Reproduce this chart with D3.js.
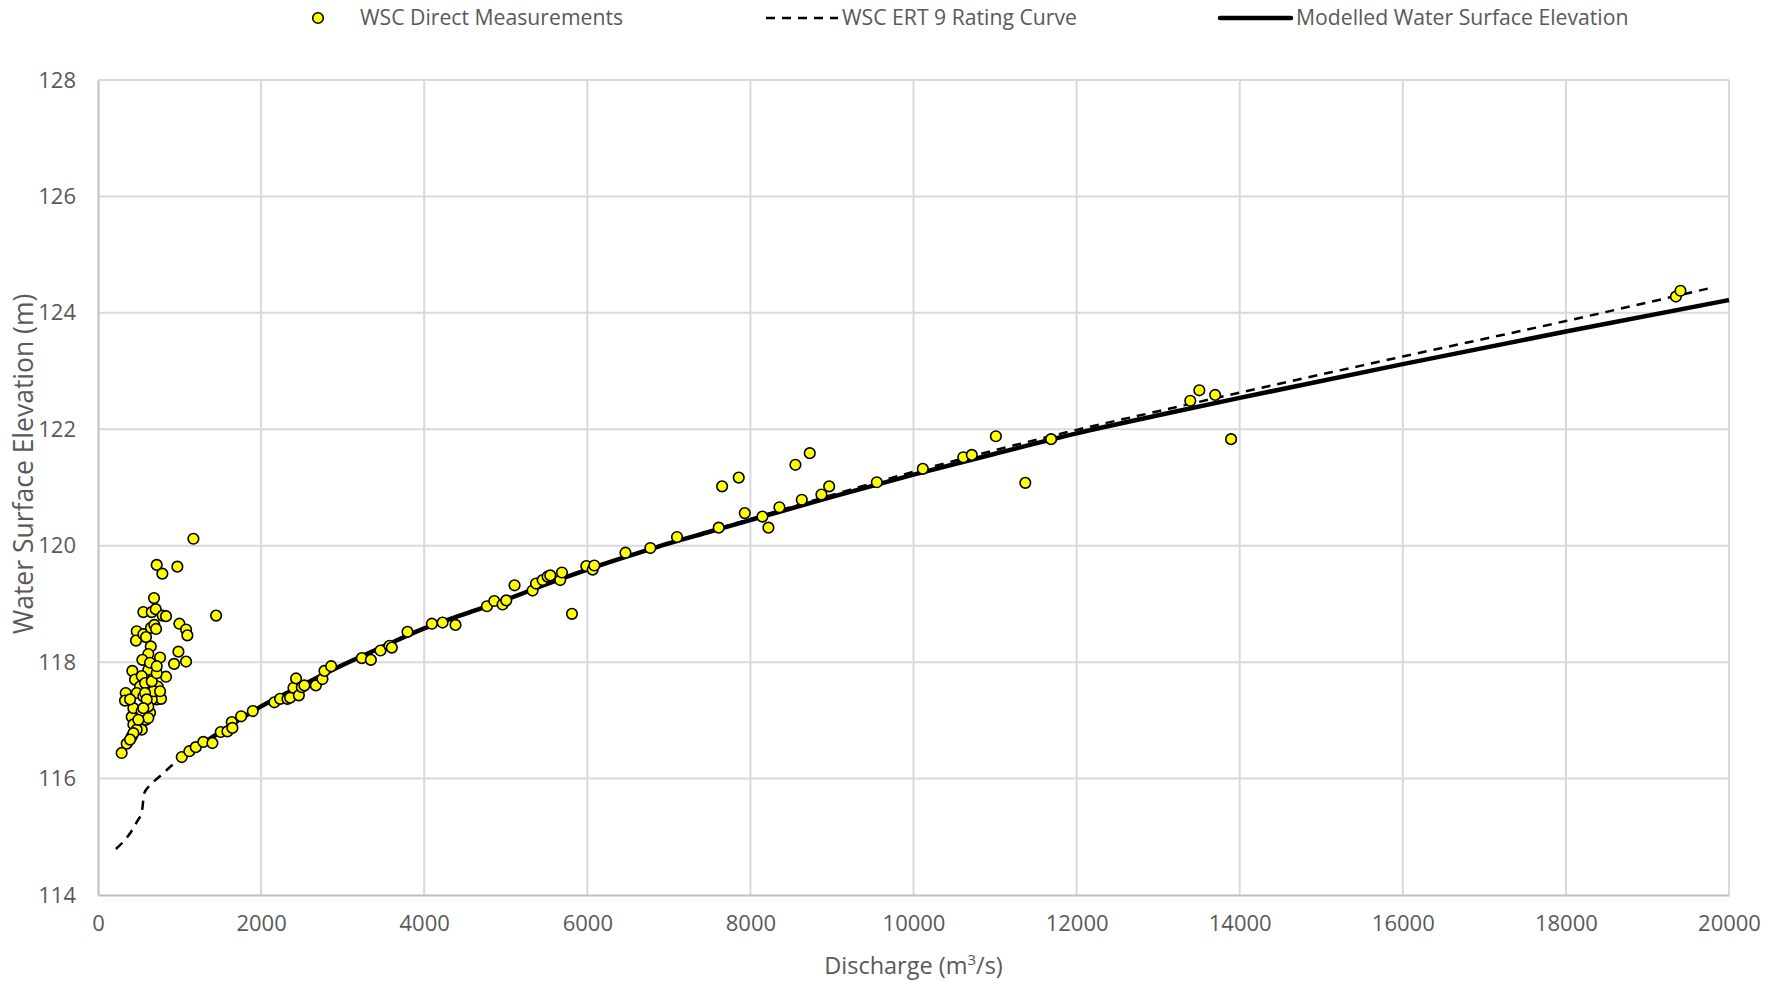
<!DOCTYPE html>
<html>
<head>
<meta charset="utf-8">
<script src="https://cdn.jsdelivr.net/npm/d3@7"></script>
<style>
  html, body { margin: 0; padding: 0; background: #ffffff; }
  svg { display: block; }
  text { font-family: "Open Sans", "Noto Sans", sans-serif; fill: #595959; }
</style>
</head>
<body>
<svg id="chart" width="1775" height="981"></svg>
<script>
// WSC direct discharge / stage measurements
const measuredQ = [
  1170, 720, 789, 973, 1448, 687, 556, 659, 708, 793, 834, 475, 466, 556, 589, 650, 691, 712,
  647, 617, 544, 761, 998, 1080, 1096, 986, 933, 1080, 421, 454, 340, 331, 834, 413, 434, 352,
  290, 413, 536, 589, 638, 720, 773, 732, 679, 617, 536, 515, 475, 556, 659, 434, 536, 617,
  679, 577, 393, 659, 475, 434, 617, 720, 393, 577, 495, 761, 638, 720, 597, 556,
  1027, 1120, 1199, 1292, 1403, 1505, 1587, 1640, 1648, 1755, 1898, 2163, 2233, 2323, 2356,
  2397, 2429, 2463, 2499, 2531, 2671, 2752, 2777, 2859, 3235, 3346, 3464, 3574, 3603, 3795,
  4094, 4225, 4384, 4769, 4859, 4961, 5006, 5108, 5329, 5371, 5452, 5513, 5546, 5668, 5689,
  5812, 5988, 6066, 6086, 6468, 6773, 7100, 7612, 7653, 7857, 7931, 8147, 8221, 8356, 8552,
  8630, 8728, 8871, 8966, 9550, 10114, 10610, 10715, 11010, 11371, 11687, 13394, 13505,
  13699, 13894, 19349, 19405
];
const measuredWSE = [
  120.12, 119.67, 119.52, 119.64, 118.80, 119.10, 118.86, 118.86, 118.91, 118.80, 118.79, 118.53,
  118.37, 118.48, 118.43, 118.59, 118.64, 118.57, 118.27, 118.14, 118.04, 118.08, 118.66, 118.56,
  118.46, 118.18, 117.97, 118.01, 117.85, 117.70, 117.47, 117.34, 117.75, 117.06, 116.93, 116.60,
  116.44, 116.72, 116.84, 117.01, 117.13, 117.36, 117.37, 117.58, 117.81, 117.87, 117.76, 117.58,
  117.47, 117.41, 117.36, 117.21, 117.16, 117.24, 117.50, 117.64, 117.36, 117.67, 116.84, 116.78,
  117.04, 117.81, 116.67, 117.47, 117.01, 117.50, 117.99, 117.93, 117.36, 117.21,
  116.37, 116.47, 116.54, 116.63, 116.61, 116.80, 116.81, 116.97, 116.87, 117.07, 117.16, 117.31,
  117.37, 117.37, 117.39, 117.56, 117.72, 117.43, 117.57, 117.60, 117.60, 117.71, 117.85, 117.93,
  118.07, 118.04, 118.20, 118.28, 118.25, 118.52, 118.66, 118.68, 118.64, 118.96, 119.05, 118.99,
  119.06, 119.32, 119.23, 119.35, 119.41, 119.47, 119.49, 119.41, 119.54, 118.83, 119.65, 119.59,
  119.66, 119.88, 119.96, 120.15, 120.31, 121.02, 121.17, 120.56, 120.50, 120.31, 120.66, 121.39,
  120.79, 121.59, 120.88, 121.02, 121.09, 121.32, 121.52, 121.56, 121.88, 121.08, 121.83, 122.49,
  122.67, 122.59, 121.83, 124.28, 124.38
];

// WSC ERT 9 rating curve
const ratingQ = [
  220, 470, 540, 565, 620, 700, 800, 900, 1000, 1500, 2000, 2500, 3000, 3500, 4000, 4500,
  5000, 5500, 6000, 6500, 7000, 7500, 8000, 9000, 10000, 11000, 12000, 13000, 14000, 16000,
  18000, 19750
];
const ratingWSE = [
  114.79, 115.24, 115.45, 115.74, 115.86, 115.97, 116.09, 116.22, 116.33, 116.80, 117.24, 117.60,
  117.95, 118.27, 118.58, 118.83, 119.07, 119.34, 119.59, 119.82, 120.04, 120.25, 120.46, 120.87,
  121.27, 121.64, 121.99, 122.31, 122.63, 123.25, 123.86, 124.42
];

// Modelled water surface elevation
const modelQ = [
  1000, 1500, 2000, 2500, 3000, 3500, 4000, 4500, 5000, 5500, 6000, 6500, 7000, 7500, 8000,
  9000, 10000, 11000, 12000, 13000, 14000, 16000, 18000, 20000
];
const modelWSE = [
  116.33, 116.80, 117.24, 117.60, 117.95, 118.27, 118.58, 118.83, 119.07, 119.34, 119.59, 119.82,
  120.04, 120.24, 120.44, 120.84, 121.22, 121.58, 121.93, 122.24, 122.54, 123.12, 123.68, 124.22
];

const xTicks = [0, 2000, 4000, 6000, 8000, 10000, 12000, 14000, 16000, 18000, 20000];
const yTicks = [114, 116, 118, 120, 122, 124, 126, 128];

const seriesNames = ["WSC Direct Measurements", "WSC ERT 9 Rating Curve", "Modelled Water Surface Elevation"];

const svg = d3.select("#chart");
const plot = { left: 98, right: 1729, top: 80, bottom: 895 };

const x = d3.scaleLinear().domain([0, 20000]).range([plot.left, plot.right]);
const y = d3.scaleLinear().domain([114, 128]).range([plot.bottom, plot.top]);

const gridColor = "#d9d9d9";
const axisColor = "#bfbfbf";

// gridlines
const grid = svg.append("g");
grid.selectAll("line.vx").data(xTicks.slice(1)).join("line")
  .attr("x1", d => x(d)).attr("x2", d => x(d))
  .attr("y1", plot.top).attr("y2", plot.bottom)
  .attr("stroke", gridColor).attr("stroke-width", 2);
grid.selectAll("line.hy").data(yTicks.slice(1)).join("line")
  .attr("x1", plot.left).attr("x2", plot.right)
  .attr("y1", d => y(d)).attr("y2", d => y(d))
  .attr("stroke", gridColor).attr("stroke-width", 2);

// axes
const xAxis = d3.axisBottom(x).tickValues(xTicks).tickSize(0).tickPadding(20).tickFormat(d3.format("d"));
const yAxis = d3.axisLeft(y).tickValues(yTicks).tickSize(0).tickPadding(22).tickFormat(d3.format("d"));

const gx = svg.append("g").attr("transform", `translate(0,${plot.bottom})`).call(xAxis);
const gy = svg.append("g").attr("transform", `translate(${plot.left},0)`).call(yAxis);
[gx, gy].forEach(g => {
  g.select(".domain").attr("stroke", axisColor).attr("stroke-width", 2);
  g.selectAll("text").attr("font-family", '"Open Sans", sans-serif').attr("font-size", 22).attr("fill", "#595959");
});

// axis titles
svg.append("text")
  .attr("x", (plot.left + plot.right) / 2).attr("y", 974)
  .attr("text-anchor", "middle").attr("font-size", 23.5)
  .call(t => {
    t.append("tspan").text("Discharge (m");
    t.append("tspan").attr("font-size", 15).attr("dy", -9).text("3");
    t.append("tspan").attr("dy", 9).text("/s)");
  });

svg.append("text")
  .attr("transform", "translate(33,464) rotate(-90)")
  .attr("text-anchor", "middle").attr("font-size", 26.5)
  .text("Water Surface Elevation (m)");

// lines
const ratingData = ratingQ.map((q, i) => [q, ratingWSE[i]]);
const modelData = modelQ.map((q, i) => [q, modelWSE[i]]);
const line = d3.line().x(d => x(d[0])).y(d => y(d[1])).curve(d3.curveMonotoneX);

svg.append("path").datum(ratingData)
  .attr("d", line).attr("fill", "none")
  .attr("stroke", "#000").attr("stroke-width", 2.5).attr("stroke-dasharray", "9,7");

svg.append("path").datum(modelData)
  .attr("d", line).attr("fill", "none")
  .attr("stroke", "#000").attr("stroke-width", 4.5).attr("stroke-linejoin", "round");

// measurements
const measured = measuredQ.map((q, i) => [q, measuredWSE[i]]);
svg.append("g").selectAll("circle").data(measured).join("circle")
  .attr("cx", d => x(d[0])).attr("cy", d => y(d[1])).attr("r", 5.3)
  .attr("fill", "#ffff00").attr("stroke", "#000").attr("stroke-width", 1.6);

// legend
const legend = svg.append("g").attr("font-size", 21.2);
legend.append("circle").attr("cx", 318).attr("cy", 18).attr("r", 5.3)
  .attr("fill", "#ffff00").attr("stroke", "#000").attr("stroke-width", 1.6);
legend.append("text").attr("x", 360).attr("y", 18).attr("dy", "0.35em").text(seriesNames[0]);

legend.append("line").attr("x1", 766).attr("x2", 838).attr("y1", 18).attr("y2", 18)
  .attr("stroke", "#000").attr("stroke-width", 2.5).attr("stroke-dasharray", "9,7");
legend.append("text").attr("x", 842).attr("y", 18).attr("dy", "0.35em").text(seriesNames[1]);

legend.append("line").attr("x1", 1220).attr("x2", 1291).attr("y1", 18).attr("y2", 18)
  .attr("stroke", "#000").attr("stroke-width", 4.5).attr("stroke-linecap", "round");
legend.append("text").attr("x", 1296).attr("y", 18).attr("dy", "0.35em").text(seriesNames[2]);
</script>
</body>
</html>
